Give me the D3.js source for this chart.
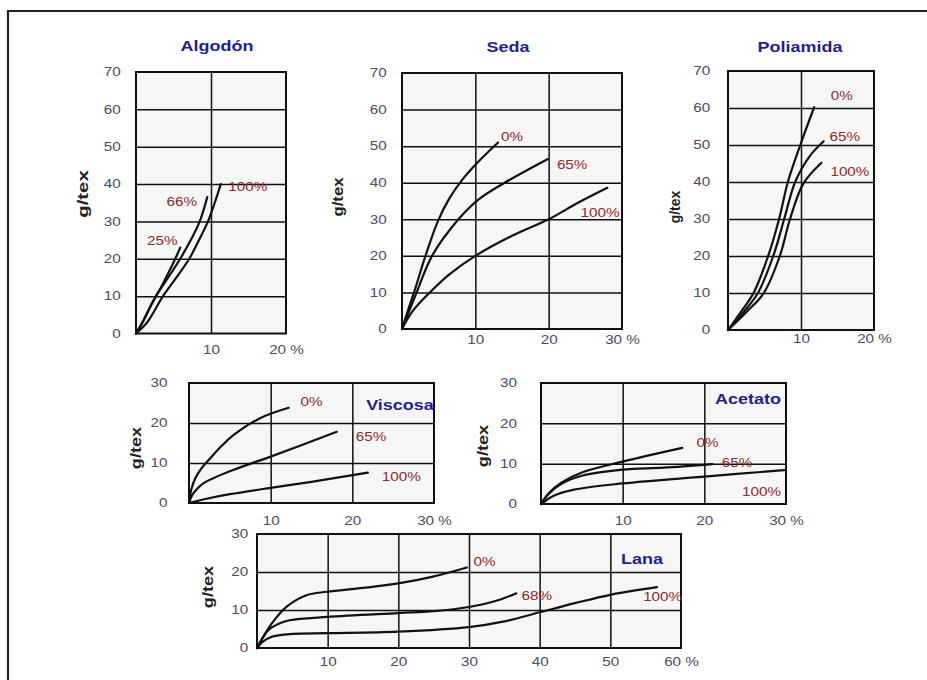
<!DOCTYPE html>
<html>
<head>
<meta charset="utf-8">
<script src="https://cdn.jsdelivr.net/npm/d3@7"></script>
<style>
  body { margin: 0; background: #fff; }
  svg { display: block; }
</style>
</head>
<body>
<svg id="chart" width="927" height="680"></svg>
<script>
// ---- Axis ticks ----
const yTicksTall = [0, 10, 20, 30, 40, 50, 60, 70];
const yTicksShort = [0, 10, 20, 30];
const xTicks20 = [10, 20];
const xTicks30 = [10, 20, 30];
const xTicks60 = [10, 20, 30, 40, 50, 60];

// ---- Panel titles ----
const fibreNames = ["Algodón", "Seda", "Poliamida", "Viscosa", "Acetato", "Lana"];

// ---- Stress–strain curves: [elongation %, tenacity g/tex] ----
const algodon25  = [[0,0],[1,3.5],[2,7.5],[3.5,13],[5,19],[5.9,23]];
const algodon66  = [[0,0],[1,3.5],[2.5,9.5],[4.3,15],[5.9,20],[7.3,25],[8.5,30],[9.5,36.5]];
const algodon100 = [[0,0],[1.5,3],[3.6,10],[5.4,15],[7.1,20],[8.4,25],[9.6,30],[10.5,35],[11.3,40]];
const algodonSeries = ["25%", "66%", "100%"];

const seda0   = [[0,0],[0.8,5],[1.8,11],[3.2,20],[4.9,29.5],[6.4,35.5],[8.1,40.5],[10.2,45.3],[13.1,51]];
const seda65  = [[0,0],[1,5],[2,10],[4.1,20],[7.7,30],[10.5,35.5],[14,40],[19.9,46.5]];
const seda100 = [[0,0],[1.5,5],[3.8,10],[6.5,15],[10,20],[15,25.5],[20,30],[24,34.5],[28,38.6]];
const sedaSeries = ["0%", "65%", "100%"];

const poliamida0   = [[0,0],[1.8,5],[3.5,10],[5.5,20],[7.0,30],[8.2,40],[9.9,50],[11.8,60.2]];
const poliamida65  = [[0,0],[2.2,5],[4.1,10],[6.2,20],[7.7,30],[9.2,40],[11.2,47],[13.1,51]];
const poliamida100 = [[0,0],[2.6,5],[4.9,10],[7.1,20],[8.5,30],[10.3,39.5],[12.8,45.2]];
const poliamidaSeries = ["0%", "65%", "100%"];

const viscosa0   = [[0,0],[0.3,3.5],[0.8,6.3],[1.5,8.6],[2.6,11.2],[4,14.3],[5.4,16.9],[8.7,21.2],[12.2,23.8]];
const viscosa65  = [[0,0],[0.4,2],[0.9,3.3],[1.75,4.9],[5.4,8.25],[10,11.6],[18.1,17.8]];
const viscosa100 = [[0,0],[2,1],[5,2.2],[10,3.8],[15,5.3],[21.9,7.6]];
const viscosaSeries = ["0%", "65%", "100%"];

const acetato0   = [[0,0],[1,2.8],[2.5,5.3],[5,7.8],[10,10.5],[17.3,13.9]];
const acetato65  = [[0,0],[1,2.6],[2.5,5],[5,7],[10,8.5],[15,9],[21,9.9]];
const acetato100 = [[0,0],[0.7,1],[1.5,2],[3.9,3.5],[10,5.1],[20,6.8],[29.8,8.4]];
const acetatoSeries = ["0%", "65%", "100%"];

const lana0   = [[0,0],[0.9,3],[2.1,6.5],[4.2,10.9],[7,13.9],[9.9,14.8],[15,15.8],[20,17],[24.9,18.8],[29.7,21.2]];
const lana68  = [[0,0],[0.6,2],[1.6,4.7],[3,6.3],[4.6,7.3],[10,8.2],[20,9.2],[25,9.7],[30,10.8],[34,12.5],[36.7,14.4]];
const lana100 = [[0,0],[0.7,1.5],[2,2.9],[5,3.7],[10,3.9],[20,4.3],[30,5.5],[35,7],[40,9.4],[45,11.8],[50,14],[56.6,16]];
const lanaSeries = ["0%", "68%", "100%"];

// ---- Panel layout (pixel boxes, label anchors in data units) ----
const panels = [
  { title: fibreNames[0], curves: [algodon25, algodon66, algodon100], names: algodonSeries,
    left: 136, right: 286, top: 72, bottom: 333.5, xMax: 20, yMax: 70,
    xTicks: xTicks20, yTicks: yTicksTall,
    titlePos: [217, 51], yLabelPos: [83, 194], yLabelStretch: 1.45,
    yPad: 12, xPad: 21,
    labelPos: [[3.5, 24.8], [6.1, 35.3], [14.9, 39.3]] },
  { title: fibreNames[1], curves: [seda0, seda65, seda100], names: sedaSeries,
    left: 402, right: 622, top: 73, bottom: 329, xMax: 30, yMax: 70,
    xTicks: xTicks30, yTicks: yTicksTall,
    titlePos: [508, 52], yLabelPos: [338, 197], yLabelStretch: 1.2,
    yPad: 12, xPad: 15,
    labelPos: [[15, 52.5], [23.2, 44.8], [27, 31.7]] },
  { title: fibreNames[2], curves: [poliamida0, poliamida65, poliamida100], names: poliamidaSeries,
    left: 728, right: 874, top: 71, bottom: 330, xMax: 20, yMax: 70,
    xTicks: xTicks20, yTicks: yTicksTall,
    titlePos: [800, 52], yLabelPos: [675, 207], yLabelStretch: 1.0,
    yPad: 14, xPad: 13,
    labelPos: [[15.6, 63.2], [16, 52.2], [16.7, 42.7]] },
  { title: fibreNames[3], curves: [viscosa0, viscosa65, viscosa100], names: viscosaSeries,
    left: 189, right: 434, top: 383, bottom: 503, xMax: 30, yMax: 30,
    xTicks: xTicks30, yTicks: yTicksShort,
    titlePos: [400, 410], yLabelPos: [136, 448], yLabelStretch: 1.3,
    yPad: 17, xPad: 22,
    labelPos: [[15, 25.25], [22.3, 16.5], [26, 6.5]] },
  { title: fibreNames[4], curves: [acetato0, acetato65, acetato100], names: acetatoSeries,
    left: 541, right: 786, top: 383, bottom: 504, xMax: 30, yMax: 30,
    xTicks: xTicks30, yTicks: yTicksShort,
    titlePos: [748, 404], yLabelPos: [483, 446], yLabelStretch: 1.3,
    yPad: 19, xPad: 21,
    labelPos: [[20.4, 15.1], [24, 10.2], [27, 3]] },
  { title: fibreNames[5], curves: [lana0, lana68, lana100], names: lanaSeries,
    left: 257, right: 681, top: 534, bottom: 648, xMax: 60, yMax: 30,
    xTicks: xTicks60, yTicks: yTicksShort,
    titlePos: [642, 564], yLabelPos: [208, 587], yLabelStretch: 1.3,
    yPad: 7, xPad: 18,
    labelPos: [[32.2, 22.6], [39.6, 13.7], [57.4, 13.4]] }
];

// ---- Styles ----
const INK = "#111";
const TICK_COLOR = "#4b4b66";
const TITLE_COLOR = "#1f1f8f";
const SERIES_COLOR = "#8e2a2a";
const FONT = "'Liberation Sans', Arial, Helvetica, sans-serif";
const TEXT_STRETCH = 1.27;   // wide lettering

const svg = d3.select("#chart");

// Outer frame
svg.append("path")
  .attr("d", "M8,690 L8,11 L935,11")
  .attr("fill", "none")
  .attr("stroke", "#222")
  .attr("stroke-width", 2.2);

panels.forEach(p => {
  const x = d3.scaleLinear().domain([0, p.xMax]).range([p.left, p.right]);
  const y = d3.scaleLinear().domain([0, p.yMax]).range([p.bottom, p.top]);
  const g = svg.append("g");
  const w = p.right - p.left, h = p.bottom - p.top;

  // Plot area
  g.append("rect")
    .attr("x", p.left).attr("y", p.top)
    .attr("width", w).attr("height", h)
    .attr("fill", "#f6f6f6");

  // Grid lines from the scales' ticks
  g.append("g")
    .attr("transform", `translate(0,${p.bottom})`)
    .call(d3.axisBottom(x).tickValues(p.xTicks.filter(t => t < p.xMax)).tickSize(-h).tickFormat(""))
    .call(a => a.select(".domain").remove())
    .call(a => a.selectAll("line").attr("stroke", INK).attr("stroke-width", 1.5));
  g.append("g")
    .attr("transform", `translate(${p.left},0)`)
    .call(d3.axisLeft(y).tickValues(p.yTicks.filter(t => t > 0 && t < p.yMax)).tickSize(-w).tickFormat(""))
    .call(a => a.select(".domain").remove())
    .call(a => a.selectAll("line").attr("stroke", INK).attr("stroke-width", 1.5));

  // Frame
  g.append("rect")
    .attr("x", p.left).attr("y", p.top)
    .attr("width", w).attr("height", h)
    .attr("fill", "none")
    .attr("stroke", INK).attr("stroke-width", 2);

  // Y tick labels
  g.append("g")
    .attr("transform", `translate(${p.left},0)`)
    .call(d3.axisLeft(y).tickValues(p.yTicks).tickSize(0).tickPadding(p.yPad))
    .call(a => a.select(".domain").remove())
    .call(a => a.selectAll("text")
      .attr("font-family", FONT).attr("font-size", 12)
      .attr("fill", TICK_COLOR)
      .attr("transform", `scale(${TEXT_STRETCH},1)`));

  // X tick labels
  g.append("g")
    .attr("transform", `translate(0,${p.bottom})`)
    .call(d3.axisBottom(x).tickValues(p.xTicks).tickSize(0).tickPadding(p.xPad - 9)
      .tickFormat(d => d === p.xMax ? d + " %" : d))
    .call(a => a.select(".domain").remove())
    .call(a => a.selectAll("text")
      .attr("font-family", FONT).attr("font-size", 12)
      .attr("fill", TICK_COLOR)
      .attr("transform", `scale(${TEXT_STRETCH},1)`));

  // Y axis title
  g.append("text")
    .attr("transform", `translate(${p.yLabelPos[0]},${p.yLabelPos[1]}) rotate(-90) scale(${p.yLabelStretch},1)`)
    .attr("text-anchor", "middle")
    .attr("dy", "0.35em")
    .attr("font-family", FONT).attr("font-size", 14).attr("font-weight", "bold")
    .attr("fill", "#222")
    .text("g/tex");

  // Curves
  const line = d3.line()
    .x(d => x(d[0]))
    .y(d => y(d[1]))
    .curve(d3.curveCatmullRom.alpha(0.5));
  g.selectAll("path.curve")
    .data(p.curves)
    .join("path")
    .attr("class", "curve")
    .attr("d", line)
    .attr("fill", "none")
    .attr("stroke", INK)
    .attr("stroke-width", 2.2)
    .attr("stroke-linecap", "round");

  // Series labels
  g.selectAll("text.series")
    .data(p.names)
    .join("text")
    .attr("class", "series")
    .attr("transform", (d, i) => `translate(${x(p.labelPos[i][0])},${y(p.labelPos[i][1])}) scale(${TEXT_STRETCH},1)`)
    .attr("text-anchor", "middle")
    .attr("dy", "0.35em")
    .attr("font-family", FONT).attr("font-size", 12)
    .attr("fill", SERIES_COLOR)
    .text(d => d);

  // Panel title
  g.append("text")
    .attr("transform", `translate(${p.titlePos[0]},${p.titlePos[1]}) scale(1.24,1)`)
    .attr("text-anchor", "middle")
    .attr("font-family", FONT).attr("font-size", 14.5).attr("font-weight", "bold")
    .attr("fill", TITLE_COLOR)
    .text(p.title);
});
</script>
</body>
</html>
